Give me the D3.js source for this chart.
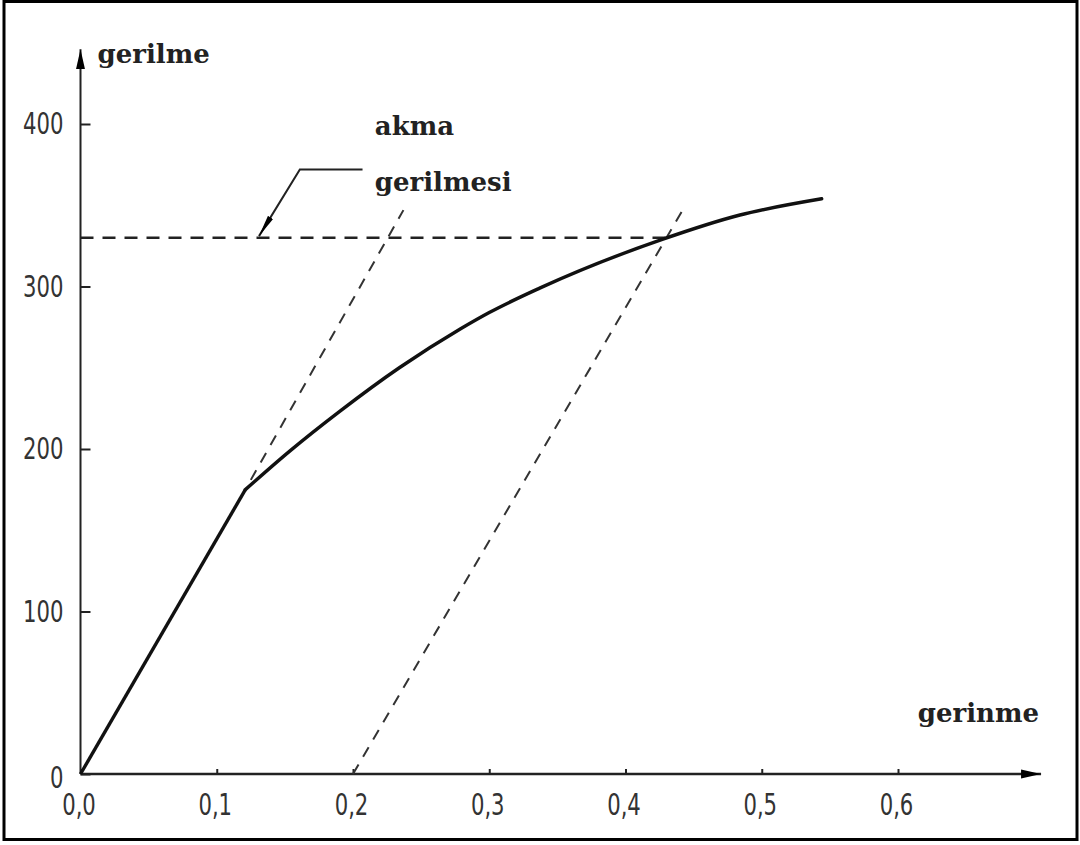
<!DOCTYPE html>
<html>
<head>
<meta charset="utf-8">
<script src="https://cdn.jsdelivr.net/npm/d3@7"></script>
<style>
  body { margin: 0; background: #fff; }
  .tick text { font-family: "DejaVu Sans Condensed", "DejaVu Sans", sans-serif; font-stretch: condensed; font-size: 31px; fill: #333; }
  .lbl { font-family: "DejaVu Serif", serif; font-weight: bold; font-size: 26px; fill: #222; }
</style>
</head>
<body>
<div id="chart"></div>
<script>
// values (strain, stress)
var xTicks = [0, 0.1, 0.2, 0.3, 0.4, 0.5, 0.6];
var xTickLabels = ["0,0", "0,1", "0,2", "0,3", "0,4", "0,5", "0,6"];
var yTicks = [0, 100, 200, 300, 400];
var elastic = [[0, 0], [0.121, 175]];
var plastic = [[0.121, 175], [0.154, 199], [0.190, 223], [0.234, 250], [0.279, 274], [0.300, 284], [0.337, 299], [0.427, 329], [0.484, 344], [0.544, 354]];
var yieldLine = [[0, 330], [0.43, 330]];
var offset1 = [[0.125, 181], [0.237, 347]];
var offset2 = [[0.2, 0], [0.444, 350]];
var leader = [[0.207, 372], [0.161, 372], [0.131, 331]];
var xMax = 0.705, yMax = 446;

var W = 1080, H = 845;
var svg = d3.select("#chart").append("svg")
  .attr("width", W).attr("height", H);

// frame
svg.append("rect")
  .attr("x", 4).attr("y", 1.5).attr("width", 1073).attr("height", 838)
  .attr("fill", "none").attr("stroke", "#000").attr("stroke-width", 3);

var x = d3.scaleLinear().domain([0, 0.6]).range([80.5, 898]);
var y = d3.scaleLinear().domain([0, 400]).range([774, 124]);

var defs = svg.append("defs");
defs.append("marker").attr("id", "arr")
  .attr("viewBox", "0 0 20 10").attr("refX", 20).attr("refY", 5)
  .attr("markerWidth", 20).attr("markerHeight", 10).attr("markerUnits", "userSpaceOnUse")
  .attr("orient", "auto")
  .append("path").attr("d", "M0,0.5 L20,5 L0,9.5 Z").attr("fill", "#000");
// thin, long head for the leader
defs.append("marker").attr("id", "lead")
  .attr("viewBox", "0 0 22 8").attr("refX", 22).attr("refY", 4)
  .attr("markerWidth", 22).attr("markerHeight", 8).attr("markerUnits", "userSpaceOnUse")
  .attr("orient", "auto")
  .append("path").attr("d", "M0,1 L22,4 L0,7 Z").attr("fill", "#000");

// axes
var sx = 0.76;
var xAxis = d3.axisBottom(x).tickValues(xTicks)
  .tickFormat(function(d, i) { return xTickLabels[i]; })
  .tickSizeInner(-5).tickSizeOuter(0).tickPadding(19);
var yAxis = d3.axisLeft(y).tickValues(yTicks)
  .tickSizeInner(-10).tickSizeOuter(0).tickPadding(17 / sx);

var gx = svg.append("g").attr("transform", "translate(0," + y(0) + ")").call(xAxis);
var gy = svg.append("g").attr("transform", "translate(" + x(0) + ",0)").call(yAxis);
gx.select(".domain").remove();
gy.select(".domain").remove();
gx.selectAll(".tick line").attr("stroke", "#222").attr("stroke-width", 2);
gy.selectAll(".tick line").attr("stroke", "#222").attr("stroke-width", 2);
// narrow digits like the drawing's lettering
gx.selectAll("text").attr("transform", "translate(-2,0) scale(" + sx + ",1)");
gy.selectAll("text").attr("transform", "scale(" + sx + ",1)");
gy.selectAll(".tick").filter(function(d) { return d === 0; }).select("text").attr("dy", "0.45em");

svg.append("line")
  .attr("x1", x(0)).attr("y1", y(0)).attr("x2", x(xMax)).attr("y2", y(0))
  .attr("stroke", "#222").attr("stroke-width", 2.5).attr("marker-end", "url(#arr)");
svg.append("line")
  .attr("x1", x(0)).attr("y1", y(0)).attr("x2", x(0)).attr("y2", y(yMax))
  .attr("stroke", "#222").attr("stroke-width", 2).attr("marker-end", "url(#arr)");

var line = d3.line().x(function(d) { return x(d[0]); }).y(function(d) { return y(d[1]); });
var curve = d3.line().x(function(d) { return x(d[0]); }).y(function(d) { return y(d[1]); })
  .curve(d3.curveMonotoneX);

// dashed guides
[yieldLine, offset1, offset2].forEach(function(d, i) {
  svg.append("path").attr("d", line(d))
    .attr("fill", "none").attr("stroke", i === 0 ? "#222" : "#333")
    .attr("stroke-width", i === 0 ? 2.5 : 2)
    .attr("stroke-dasharray", i === 0 ? "13,9" : "11,9");
});

// stress-strain curve
svg.append("path").attr("d", line(elastic))
  .attr("fill", "none").attr("stroke", "#111").attr("stroke-width", 3.4);
svg.append("path").attr("d", curve(plastic))
  .attr("fill", "none").attr("stroke", "#111").attr("stroke-width", 3.4)
  .attr("stroke-linecap", "round");

// leader to yield line
svg.append("path").attr("d", line(leader))
  .attr("fill", "none").attr("stroke", "#222").attr("stroke-width", 2)
  .attr("marker-end", "url(#lead)");

svg.append("text").attr("class", "lbl").attr("x", x(0.216)).attr("y", y(393)).text("akma");
svg.append("text").attr("class", "lbl").attr("x", x(0.216)).attr("y", y(359)).text("gerilmesi");
svg.append("text").attr("class", "lbl").attr("x", x(0) + 17).attr("y", y(yMax) + 14).text("gerilme");
svg.append("text").attr("class", "lbl").attr("text-anchor", "end")
  .attr("x", x(xMax) - 2).attr("y", y(0) - 52).text("gerinme");
</script>
</body>
</html>
